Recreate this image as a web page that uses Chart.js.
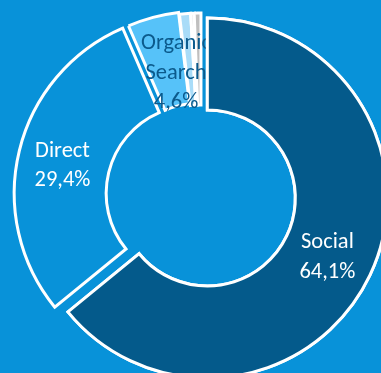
<!DOCTYPE html>
<html>
<head>
<meta charset="utf-8">
<script src="https://cdn.jsdelivr.net/npm/chart.js@4/dist/chart.umd.min.js"></script>
<style>
  html, body { margin: 0; padding: 0; }
  body { width: 381px; height: 373px; overflow: hidden; background: #0892d9; position: relative; }
  #wrap { position: absolute; left: -29px; top: -35px; width: 460px; height: 460px; }
</style>
</head>
<body>
<div id="wrap"><canvas id="pie" width="460" height="460"></canvas></div>
<script>
// chart values
var categories = ['Social', 'Direct', 'Organic Search', 'Referral', 'Email', 'Other'];
var shares = [64.1, 29.4, 4.6, 1.0, 0.3, 0.6];
var showLabel = [true, true, true, false, false, false];

var sliceColors = ['#045a8b', '#0892d9', '#56c2f9', '#a9dcf8', '#d9d9d9', '#bfbfbf'];
var labelColors = ['#ffffff', '#ffffff', '#0b5a8c', null, null, null];
// how far each slice is pulled out of the ring, px
var explode = [7, 7, 4, 2, 2, 2];
var nudge = [[-1, 0], [-1.5, 2], [11, 9.5], [0, 0], [0, 0], [0, 0]];

function pct(v) {
    return v.toFixed(1).replace('.', ',') + '%';
}

function midAngle(arc) {
    return (arc.startAngle + arc.endAngle) / 2;
}

// Draws one arc element pulled out along its middle angle
function drawSlice(ctx, arc, i) {
    var mid = midAngle(arc);
    ctx.save();
    ctx.translate(Math.cos(mid) * explode[i], Math.sin(mid) * explode[i]);
    arc.draw(ctx);
    ctx.restore();
}

// Function used to draw one data label in the middle of its ring slice
function drawLabel(ctx, arc, i) {
    var mid = midAngle(arc);
    var r = (arc.innerRadius + arc.outerRadius) / 2 + explode[i];
    var x = arc.x + Math.cos(mid) * r + nudge[i][0];
    var y = arc.y + Math.sin(mid) * r + nudge[i][1];
    var lines = categories[i].split(' ').concat([pct(shares[i])]);
    var size = 22.5;
    var lh = 29.5;
    ctx.save();
    ctx.font = size + 'px Carlito, Lato, sans-serif';
    ctx.fillStyle = labelColors[i];
    ctx.textAlign = 'center';
    ctx.textBaseline = 'alphabetic';
    for (var k = 0; k < lines.length; k++) {
        ctx.fillText(lines[k], x, y + (k - (lines.length - 1) / 2) * lh + size * 0.34);
    }
    ctx.restore();
}

var explodePlugin = {
    id: 'explodedSlices',
    beforeDatasetDraw: function (chart, args) {
        var ctx = chart.ctx;
        args.meta.data.forEach(function (arc, i) {
            drawSlice(ctx, arc, i);
        });
        return false;
    },
    afterDatasetsDraw: function (chart) {
        var ctx = chart.ctx;
        var meta = chart.getDatasetMeta(0);
        for (var i = 1; i < meta.data.length; i++) {
            if (showLabel[i]) drawLabel(ctx, meta.data[i], i);
        }
        // the big slice sits over the other labels, like in the original
        drawSlice(ctx, meta.data[0], 0);
        if (showLabel[0]) drawLabel(ctx, meta.data[0], 0);
    }
};

var ctx = document.getElementById('pie').getContext('2d');
new Chart(ctx, {
    type: 'doughnut',
    data: {
        labels: categories,
        datasets: [{
            data: shares,
            backgroundColor: sliceColors,
            borderColor: '#ffffff',
            borderWidth: 3,
            borderJoinStyle: 'miter',
            hoverOffset: 0
        }]
    },
    options: {
        responsive: false,
        animation: false,
        radius: 180,
        cutout: '48.9%',
        layout: { padding: 0 },
        events: [],
        plugins: {
            legend: { display: false },
            tooltip: { enabled: false }
        }
    },
    plugins: [explodePlugin]
});
</script>
</body>
</html>
